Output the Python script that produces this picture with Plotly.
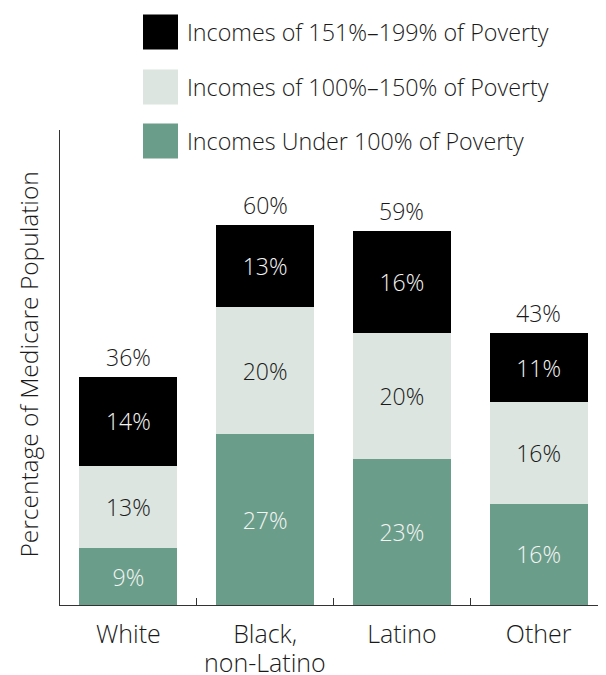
import plotly.graph_objects as go

categories = ["White", "Black, non-Latino", "Latino", "Other"]
tick_labels = ["White", "Black,", "Latino", "Other"]
tick_second_line = ["", "non-Latino", "", ""]
under_100 = [9, 27, 23, 16]
pct_100_150 = [13, 20, 20, 16]
pct_151_199 = [14, 13, 16, 11]
totals = [36, 60, 59, 43]

series_names = [
    "Incomes of 151%\u2013199% of Poverty",
    "Incomes of 100%\u2013150% of Poverty",
    "Incomes Under 100% of Poverty",
]

FONT = "Open Sans"
C_BLACK = "#000000"
C_LIGHT = "#dce5df"
C_GREEN = "#6b9e8a"
TXT = "#1a1a1a"

W, H = 606, 675
OX, OY = 8, 8  # page offset of the plot div
ML, MR, MT, MB = 60 - OX, 7, 130 - OY, H - (605 - OY)
PW = W - ML - MR
PH = H - MT - MB


def px_x(px):
    return (px - OX - ML) / PW


def px_y(py):
    return (H - MB - (py - OY)) / PH


fig = go.Figure()
for vals, color, tcolor in [
    (under_100, C_GREEN, "#f4f4f4"),
    (pct_100_150, C_LIGHT, TXT),
    (pct_151_199, C_BLACK, "#f4f4f4"),
]:
    fig.add_trace(go.Bar(
        x=categories, y=vals, marker=dict(color=color, line=dict(width=0)),
        width=0.715, text=[f"{v}%" for v in vals], textposition="inside",
        insidetextanchor="middle", textangle=0,
        textfont=dict(family=FONT, size=23, color=tcolor, weight=300),
        showlegend=False, hoverinfo="skip",
    ))

annotations = []
for c, t in zip(categories, totals):
    annotations.append(dict(x=c, y=t, xref="x", yref="y", text=f"{t}%",
                            showarrow=False, yanchor="bottom", yshift=2,
                            font=dict(family=FONT, size=23, color=TXT, weight=300)))

# second line of category labels
for c, s in zip(categories, tick_second_line):
    if s:
        annotations.append(dict(x=c, y=px_y(662), xref="x", yref="paper", text=s,
                                showarrow=False, yanchor="middle",
                                font=dict(family=FONT, size=25, color=TXT, weight=300)))

# y-axis title
annotations.append(dict(x=px_x(OX + 1), y=px_y(365), xref="paper", yref="paper",
                        text="Percentage of Medicare Population", textangle=-90,
                        showarrow=False, xanchor="left", yanchor="middle",
                        font=dict(family=FONT, size=24.5, color=TXT, weight=300)))

# legend drawn as shapes + labels
shapes = []
leg_colors = [C_BLACK, C_LIGHT, C_GREEN]
leg_y = [32, 87, 141]
for name, col, yc in zip(series_names, leg_colors, leg_y):
    shapes.append(dict(type="rect", xref="paper", yref="paper",
                       x0=px_x(143), x1=px_x(178),
                       y0=px_y(yc + 17.5), y1=px_y(yc - 17.5),
                       fillcolor=col, line=dict(width=0)))
    annotations.append(dict(x=px_x(185), y=px_y(yc), xref="paper",
                            yref="paper", text=name, showarrow=False,
                            xanchor="left", yanchor="middle",
                            font=dict(family=FONT, size=23.3, color=TXT, weight=300)))

fig.update_layout(
    barmode="stack",
    width=W, height=H,
    margin=dict(l=ML, r=MR, t=MT, b=MB, autoexpand=False),
    plot_bgcolor="white", paper_bgcolor="white",
    font=dict(family=FONT, color=TXT),
    annotations=annotations, shapes=shapes,
    xaxis=dict(range=[-0.5, 3.5], showline=True, linecolor="#333333", linewidth=1,
               tickmode="array", tickvals=categories, ticktext=tick_labels,
               ticks="inside", tickson="boundaries", ticklen=7, tickcolor="#333333",
               tickfont=dict(family=FONT, size=25, color=TXT, weight=300),
               ticklabelstandoff=7, automargin=False,
               showgrid=False, zeroline=False, fixedrange=True),
    yaxis=dict(range=[0, 75], showline=True, linecolor="#333333", linewidth=1,
               showticklabels=False, ticks="", showgrid=False, zeroline=False,
               automargin=False, fixedrange=True),
)

fig.write_html("out.html")
